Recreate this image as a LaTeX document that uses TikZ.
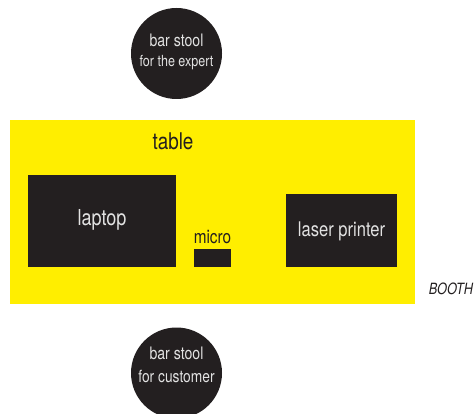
\documentclass[tikz,border=0pt]{standalone}
\usepackage{fontspec}
\setmainfont[FakeStretch=0.82]{TeX Gyre Heros}
\definecolor{boothyellow}{HTML}{FFEE00}
\definecolor{darkbox}{HTML}{231F20}
\definecolor{lighttext}{HTML}{E2E2E2}
\begin{document}
\begin{tikzpicture}[x=1pt,y=-1pt,
  darkrect/.style={rectangle, fill=darkbox, draw=none, inner sep=0pt},
  stool/.style={circle, fill=darkbox, draw=none, inner sep=0pt, minimum size=91pt},
  lighttxt/.style={text=lighttext, inner sep=0pt, align=center},
  darktxt/.style={text=darkbox, inner sep=0pt}]
\useasboundingbox (0,0) rectangle (474,414);
\fill[white] (0,0) rectangle (474,414);
\node[rectangle, fill=boothyellow, inner sep=0pt, minimum width=405pt, minimum height=184pt] (table) at (212.5,212) {};
\node[darktxt, font=\fontsize{23}{25}\selectfont] (tablelbl) at (173,141) {table};
\node[darkrect, minimum width=148pt, minimum height=92pt] (laptop) at (102,221) {};
\node[lighttxt, font=\fontsize{22}{24}\selectfont] (laptoplbl) at (102,220) {laptop};
\node[darkrect, minimum width=37pt, minimum height=18pt] (micro) at (212.5,258) {};
\node[darktxt, font=\fontsize{18.7}{20}\selectfont] (microlbl) at (212.5,237) {micro};
\node[darkrect, minimum width=111pt, minimum height=73pt] (printer) at (341.5,230.5) {};
\node[lighttxt, font=\fontsize{20.2}{22}\selectfont] (printerlbl) at (341.5,231) {laser printer};
\node[darktxt, font=\itshape\fontsize{15.5}{17}\selectfont] (booth) at (451,289) {BOOTH};
\node[stool] (expert) at (176.5,53.5) {};
\node[lighttxt, font=\fontsize{17.2}{19}\selectfont] (expertlbl1) at (176.5,40) {bar stool};
\node[lighttxt, font=\fontsize{15.3}{17}\selectfont] (expertlbl2) at (176.5,63) {for the expert};
\node[stool] (customer) at (176.5,373) {};
\node[lighttxt, font=\fontsize{17.2}{19}\selectfont] (customerlbl1) at (176.5,353) {bar stool};
\node[lighttxt, font=\fontsize{16.8}{18}\selectfont] (customerlbl2) at (176.5,376) {for customer};
\end{tikzpicture}
\end{document}
